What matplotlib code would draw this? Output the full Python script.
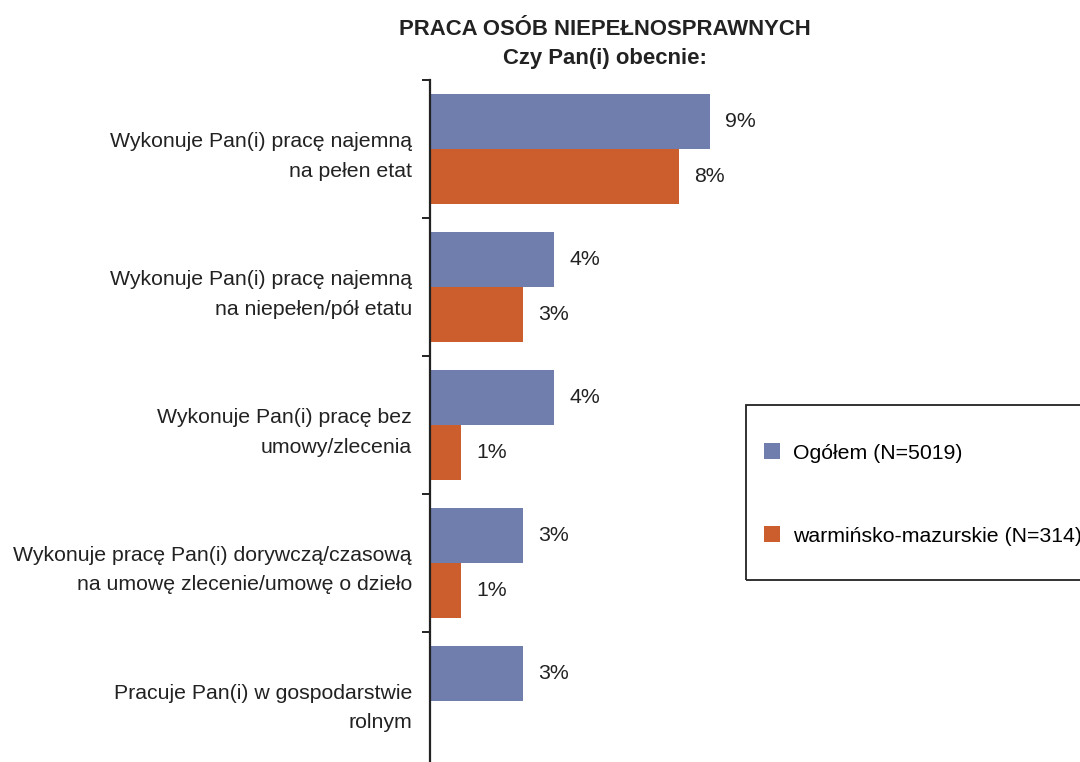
import numpy as np
import matplotlib.pyplot as plt
from matplotlib.patches import Patch, Rectangle

plt.rcParams['font.family'] = ['Liberation Sans', 'DejaVu Sans']

# Data
categories = [
    'Wykonuje Pan(i) pracę najemną\nna pełen etat',
    'Wykonuje Pan(i) pracę najemną\nna niepełen/pół etatu',
    'Wykonuje Pan(i) pracę bez\numowy/zlecenia',
    'Wykonuje pracę Pan(i) dorywczą/czasową\nna umowę zlecenie/umowę o dzieło',
    'Pracuje Pan(i) w gospodarstwie\nrolnym',
]
ogolem = [9, 4, 4, 3, 3]
warminsko = [8, 3, 1, 1, None]
series_names = ['Ogółem (N=5019)', 'warmińsko-mazurskie (N=314)']
title = 'PRACA OSÓB NIEPEŁNOSPRAWNYCH\nCzy Pan(i) obecnie:'

blue = '#6f7ead'
orange = '#cc5e2e'
txt = '#222222'

fig = plt.figure(figsize=(10.8, 7.62), dpi=100)
ax = fig.add_axes([430 / 1080, -8 / 762, 650 / 1080, 690 / 762])

y = np.arange(len(categories))
h = 0.4
fs = 15.3

for i, v in enumerate(ogolem):
    ax.barh(y[i] - h / 2, v, height=h, color=blue)
    ax.text(v + 0.48, y[i] - h / 2, f'{v}%', va='center', ha='left', fontsize=fs, color=txt)
for i, v in enumerate(warminsko):
    if v is None:
        continue
    ax.barh(y[i] + h / 2, v, height=h, color=orange)
    ax.text(v + 0.48, y[i] + h / 2, f'{v}%', va='center', ha='left', fontsize=fs, color=txt)

ax.set_xlim(0, 20.9)
ax.set_ylim(len(categories) - 0.5, -0.5)

for s in ['top', 'right', 'bottom']:
    ax.spines[s].set_visible(False)
ax.spines['left'].set_linewidth(1.6)
ax.spines['left'].set_color(txt)
ax.set_xticks([])

ax.set_yticks(y)
ax.set_yticklabels(categories, fontsize=fs, color=txt, ha='right',
                   multialignment='right', linespacing=1.7)
ax.tick_params(axis='y', which='major', length=0, pad=13)
ax.set_yticks(np.arange(-0.5, len(categories) - 0.5, 1), minor=True)
ax.tick_params(axis='y', which='minor', length=6, width=1.4, color=txt)

fig.text(605 / 1080, 1 - 44 / 762, title, ha='center', va='center', fontsize=15.9,
         fontweight='bold', color=txt, linespacing=1.45)

# legend frame (partly outside the figure, as in the original)
fig.patches.append(Rectangle((746 / 1080, 1 - 580 / 762), 400 / 1080, 175 / 762,
                             transform=fig.transFigure, fill=False,
                             edgecolor=txt, linewidth=1.3))
handles = [Patch(facecolor=blue), Patch(facecolor=orange)]
fig.legend(handles, series_names, loc='center left',
           bbox_to_anchor=(764 / 1080, 1 - 494.5 / 762), fontsize=fs,
           frameon=False, handlelength=0.75, handleheight=0.75,
           labelspacing=3.0, borderpad=0, borderaxespad=0, handletextpad=0.6)

fig.savefig('out.png', dpi=100)
